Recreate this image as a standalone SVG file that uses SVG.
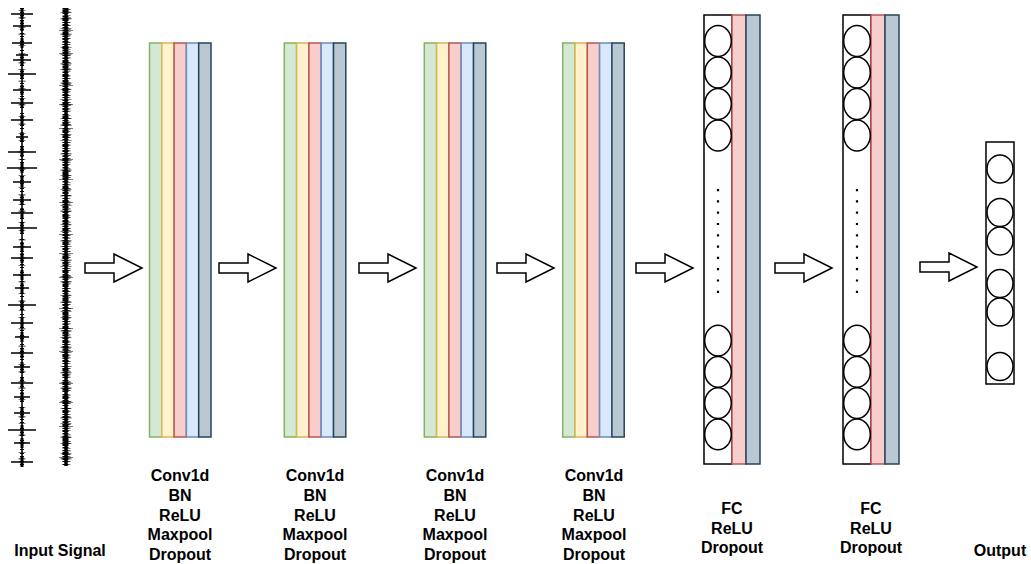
<svg xmlns="http://www.w3.org/2000/svg" width="1031" height="564" viewBox="0 0 1031 564">
  <defs>
    <style>
      .lbl { font-family: "Liberation Sans", Arial, sans-serif; font-weight: bold; font-size: 16px; fill: #000; text-anchor: middle; }
      .s1 { fill: #d5e8d4; stroke: #82b366; stroke-width: 1.5; }
      .s2 { fill: #fff2cc; stroke: #d6b656; stroke-width: 1.5; }
      .s3 { fill: #f8cecc; stroke: #b85450; stroke-width: 1.5; }
      .s4 { fill: #dae8fc; stroke: #6c8ebf; stroke-width: 1.5; }
      .s5 { fill: #bac8d3; stroke: #23445d; stroke-width: 1.5; }
      .box { fill: #fff; stroke: #000; stroke-width: 1.5; }
      .neuron { fill: none; stroke: #000; stroke-width: 1.5; }
      .dots { stroke: #000; stroke-width: 2.2; stroke-dasharray: 2.2 9.1; }
      .arrow { fill: #fff; stroke: #000; stroke-width: 1.5; stroke-linejoin: miter; }
      .wave { stroke: #000; fill: none; }
    </style>
    <!-- five-stripe conv layer -->
    <g id="convStack">
      <rect class="s1" x="0" y="0" width="12.3" height="394"/>
      <rect class="s2" x="12.3" y="0" width="12.3" height="394"/>
      <rect class="s3" x="24.6" y="0" width="12.3" height="394"/>
      <rect class="s4" x="36.9" y="0" width="12.3" height="394"/>
      <rect class="s5" x="49.2" y="0" width="12.3" height="394"/>
    </g>
    <!-- fully connected layer with activation and dropout strips -->
    <g id="fcStack">
      <rect class="box" x="0" y="0" width="28" height="449"/>
      <rect class="s3" x="28" y="0" width="14" height="449"/>
      <rect class="s5" x="42" y="0" width="14" height="449"/>
      <ellipse class="neuron" cx="14" cy="26" rx="13.3" ry="15.4"/>
      <ellipse class="neuron" cx="14" cy="57.5" rx="13.3" ry="15.4"/>
      <ellipse class="neuron" cx="14" cy="89" rx="13.3" ry="15.4"/>
      <ellipse class="neuron" cx="14" cy="120.5" rx="13.3" ry="15.4"/>
      <line class="dots" x1="14" y1="174" x2="14" y2="280"/>
      <ellipse class="neuron" cx="14" cy="325.6" rx="13.3" ry="15.4"/>
      <ellipse class="neuron" cx="14" cy="356.9" rx="13.3" ry="15.4"/>
      <ellipse class="neuron" cx="14" cy="388.1" rx="13.3" ry="15.4"/>
      <ellipse class="neuron" cx="14" cy="419.4" rx="13.3" ry="15.4"/>
    </g>
    <!-- hollow block arrow -->
    <path id="blockArrow" class="arrow" d="M0,-5 H29 V-14 L57,0 L29,14 V5 H0 Z"/>
  </defs>

  <!-- input signal traces -->
  <g id="input-signal">
    <!-- spiky trace -->
    <line class="wave" x1="22" y1="8" x2="22" y2="467" stroke-width="1.6"/>
    <line class="wave" x1="22" y1="8" x2="22" y2="467" stroke-width="4" stroke-dasharray="1 3 1 2 1 4 1 2 1 5"/>
    <line class="wave" x1="22" y1="10" x2="22" y2="467" stroke-width="7" stroke-dasharray="0.6 7 0.6 9 0.6 6 0.6 11"/>
    <path class="wave" stroke-width="1.4" d="M11,14h22M13,26h18M12,43h20M16,55h12M13,60h18M8,74h28M13,90h18M11,103h22M11,120h22M16,137h12M8,152h28M7,168h30M13,182h18M13,200h18M11,213h22M7,228h30M13,247h18M11,258h22M13,275h18M15,288h14M8,305h28M11,323h22M15,337h14M11,353h22M14,367h16M11,383h22M14,397h16M14,413h16M8,430h28M14,443h16M11,462h22"/>
    <path class="wave" stroke-width="3" d="M22,9v10M22,21v10M22,38v10M22,55v10M22,69v10M22,85v10M22,98v10M22,115v10M22,132v10M22,147v10M22,163v10M22,177v10M22,195v10M22,208v10M22,223v10M22,242v10M22,253v10M22,270v10M22,283v10M22,300v10M22,318v10M22,332v10M22,348v10M22,362v10M22,378v10M22,392v10M22,408v10M22,425v10M22,438v10M22,457v10"/>
    <!-- dense noisy trace -->
    <line class="wave" x1="66" y1="8" x2="66" y2="466" stroke-width="3.5"/>
    <line class="wave" x1="65.5" y1="8" x2="65.5" y2="466" stroke-width="6" stroke-dasharray="1 1 2 1 1 2 1 1 3 1"/>
    <line class="wave" x1="66.5" y1="9" x2="66.5" y2="466" stroke-width="8" stroke-dasharray="0.7 2 0.7 3 0.7 1.5 0.7 4"/>
    <line class="wave" x1="66" y1="12" x2="66" y2="464" stroke-width="11" stroke-dasharray="0.6 6 0.6 9 0.6 5 0.6 13"/>
    <line class="wave" x1="66" y1="30" x2="66" y2="460" stroke-width="14" stroke-dasharray="0.5 23 0.5 31 0.5 19"/>
  </g>

  <!-- connectors -->
  <g id="connectors">
    <use href="#blockArrow" x="85" y="268"/>
    <use href="#blockArrow" x="219" y="268"/>
    <use href="#blockArrow" x="359" y="268"/>
    <use href="#blockArrow" x="497" y="268"/>
    <use href="#blockArrow" x="636" y="268"/>
    <use href="#blockArrow" x="775" y="268"/>
    <use href="#blockArrow" x="920" y="267"/>
  </g>

  <g id="conv1">
    <use href="#convStack" x="149.5" y="43"/>
    <text class="lbl" x="180" y="481">Conv1d</text>
    <text class="lbl" x="180" y="501">BN</text>
    <text class="lbl" x="180" y="521">ReLU</text>
    <text class="lbl" x="180" y="540">Maxpool</text>
    <text class="lbl" x="180" y="560">Dropout</text>
  </g>
  <g id="conv2">
    <use href="#convStack" x="284.3" y="43"/>
    <text class="lbl" x="315" y="481">Conv1d</text>
    <text class="lbl" x="315" y="501">BN</text>
    <text class="lbl" x="315" y="521">ReLU</text>
    <text class="lbl" x="315" y="540">Maxpool</text>
    <text class="lbl" x="315" y="560">Dropout</text>
  </g>
  <g id="conv3">
    <use href="#convStack" x="424.3" y="43"/>
    <text class="lbl" x="455" y="481">Conv1d</text>
    <text class="lbl" x="455" y="501">BN</text>
    <text class="lbl" x="455" y="521">ReLU</text>
    <text class="lbl" x="455" y="540">Maxpool</text>
    <text class="lbl" x="455" y="560">Dropout</text>
  </g>
  <g id="conv4">
    <use href="#convStack" x="562.7" y="43"/>
    <text class="lbl" x="594" y="481">Conv1d</text>
    <text class="lbl" x="594" y="501">BN</text>
    <text class="lbl" x="594" y="521">ReLU</text>
    <text class="lbl" x="594" y="540">Maxpool</text>
    <text class="lbl" x="594" y="560">Dropout</text>
  </g>

  <g id="fc1">
    <use href="#fcStack" x="704" y="15"/>
    <text class="lbl" x="732" y="514">FC</text>
    <text class="lbl" x="732" y="533.5">ReLU</text>
    <text class="lbl" x="732" y="553">Dropout</text>
  </g>
  <g id="fc2">
    <use href="#fcStack" x="843" y="15"/>
    <text class="lbl" x="871" y="514">FC</text>
    <text class="lbl" x="871" y="533.5">ReLU</text>
    <text class="lbl" x="871" y="553">Dropout</text>
  </g>

  <g id="output">
    <rect class="box" x="986" y="142" width="28" height="242"/>
    <ellipse class="neuron" cx="1000" cy="169" rx="13" ry="14"/>
    <ellipse class="neuron" cx="1000" cy="212.5" rx="13" ry="14"/>
    <ellipse class="neuron" cx="1000" cy="241" rx="13" ry="14"/>
    <ellipse class="neuron" cx="1000" cy="283.5" rx="13" ry="14"/>
    <ellipse class="neuron" cx="1000" cy="312" rx="13" ry="14"/>
    <ellipse class="neuron" cx="1000" cy="366.5" rx="13" ry="14"/>
    <text class="lbl" x="1000" y="556">Output</text>
  </g>

  <g id="input-label">
    <text class="lbl" x="60" y="556">Input Signal</text>
  </g>
</svg>
